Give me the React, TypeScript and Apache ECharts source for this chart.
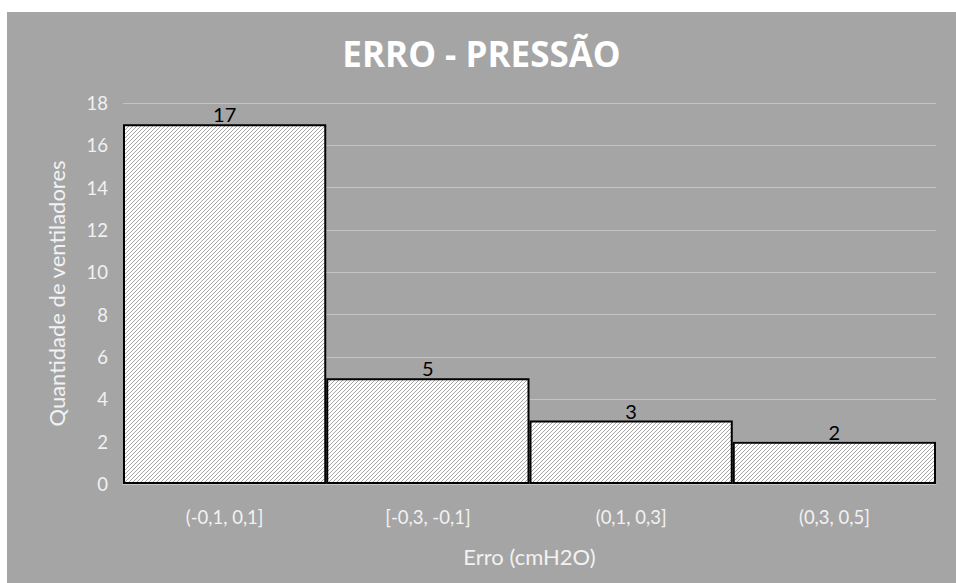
import React, { useEffect, useRef } from "react";
import * as echarts from "echarts";

const title = "ERRO - PRESSÃO";
const categories = ["(-0,1, 0,1]", "[-0,3, -0,1]", "(0,1, 0,3]", "(0,3, 0,5]"];
const counts = [17, 5, 3, 2];
const yTicks = { min: 0, max: 18, interval: 2 };
const xName = "Erro (cmH2O)";
const yName = "Quantidade de ventiladores";

const FONT = "Lato, 'Open Sans', sans-serif";

// Crisp 1px "/" hatch tile: grey diagonal pixels on white
function makeHatch(): HTMLCanvasElement {
  const size = 8;
  const c = document.createElement("canvas");
  c.width = size;
  c.height = size;
  const ctx = c.getContext("2d")!;
  ctx.fillStyle = "#ffffff";
  ctx.fillRect(0, 0, size, size);
  ctx.fillStyle = "#a6a6a6";
  for (let y = 0; y < size; y++) {
    for (let x = 0; x < size; x++) {
      if ((x + y) % 4 === 3) ctx.fillRect(x, y, 1, 1);
    }
  }
  return c;
}

export default function App() {
  const ref = useRef<HTMLDivElement>(null);

  useEffect(() => {
    if (!ref.current) return;
    const chart = echarts.init(ref.current, null, { renderer: "svg" });
    const hatch = makeHatch();
    chart.setOption({
      animation: false,
      backgroundColor: "#a5a5a5",
      title: {
        text: title,
        left: "center",
        top: 19,
        textStyle: {
          color: "#ffffff",
          fontFamily: "'Open Sans', sans-serif",
          fontWeight: "bold",
          fontSize: 35,
        },
      },
      grid: { left: 116, right: 20, top: 91, bottom: 99 },
      xAxis: {
        type: "category",
        data: categories,
        name: xName,
        nameLocation: "middle",
        nameGap: 61,
        nameTextStyle: { color: "#f2f2f2", fontSize: 22, fontFamily: FONT },
        axisLine: { show: true, lineStyle: { color: "#c8c8c8", width: 1 } },
        axisTick: { show: false },
        axisLabel: { color: "#f2f2f2", fontSize: 18.5, fontFamily: FONT, margin: 23 },
      },
      yAxis: {
        type: "value",
        min: yTicks.min,
        max: yTicks.max,
        interval: yTicks.interval,
        name: yName,
        nameLocation: "middle",
        nameGap: 56,
        nameTextStyle: { color: "#f2f2f2", fontSize: 22, fontFamily: FONT },
        axisLine: { show: false },
        axisTick: { show: false },
        axisLabel: { color: "#f2f2f2", fontSize: 18.5, fontFamily: FONT, margin: 15 },
        splitLine: { lineStyle: { color: "#c4c4c4", width: 1 } },
      },
      series: [
        {
          type: "bar",
          data: counts,
          barWidth: "100%",
          barCategoryGap: "0%",
          itemStyle: {
            color: { image: hatch, repeat: "repeat", imageWidth: 8, imageHeight: 8 },
            borderColor: "#000000",
            borderWidth: 2,
          },
          label: {
            show: true,
            position: "top",
            distance: 0,
            color: "#000000",
            fontSize: 20,
            fontFamily: FONT,
          },
        },
      ],
    });
    return () => chart.dispose();
  }, []);

  return (
    <div
      ref={ref}
      style={{ position: "absolute", left: 7, top: 12, width: 949, height: 571 }}
    />
  );
}
